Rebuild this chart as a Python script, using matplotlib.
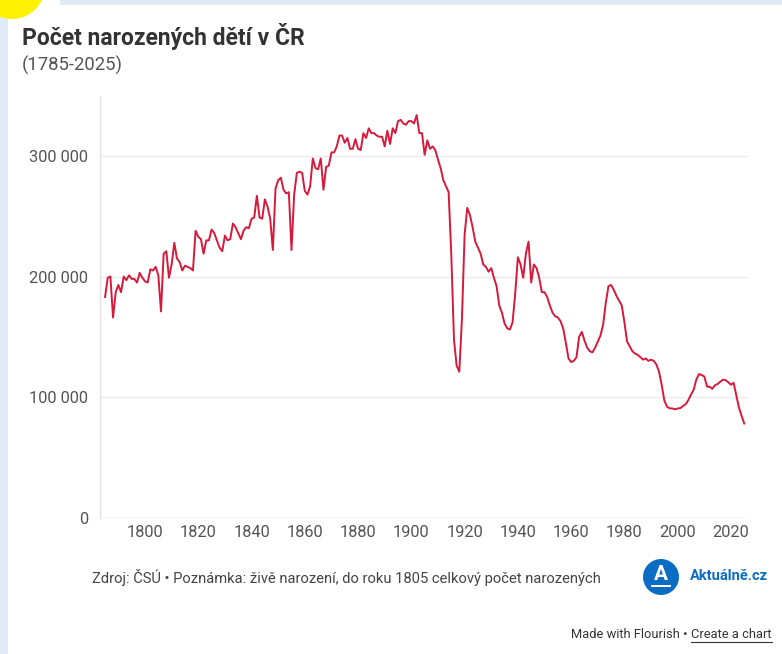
import numpy as np
import matplotlib
matplotlib.use("Agg")
import matplotlib.pyplot as plt
from matplotlib.patches import Ellipse, Rectangle

plt.rcParams['font.family'] = ['Roboto', 'DejaVu Sans']

years = np.arange(1785, 2026)
births_k = [
    183, 199, 200, 166, 187, 193, 187, 200, 197, 201,
    198, 198, 195, 203, 199, 196, 195, 206, 205, 208,
    201, 171, 219, 221, 199, 210, 228, 215, 212, 205,
    209, 208, 207, 205, 238, 233, 231, 219, 230, 230,
    239, 236, 230, 224, 221, 234, 230, 231, 244, 241,
    236, 231, 238, 241, 240, 248, 249, 267, 249, 248,
    264, 258, 248, 222, 273, 280, 282, 272, 269, 270,
    222, 268, 286, 287, 286, 271, 268, 275, 298, 290,
    289, 298, 272, 291, 292, 303, 303, 308, 317, 317,
    311, 315, 306, 306, 314, 306, 305, 319, 315, 323,
    319, 319, 317, 316, 316, 308, 321, 310, 323, 319,
    329, 330, 327, 326, 329, 329, 327, 334, 319, 319,
    301, 313, 306, 308, 305, 297, 290, 280, 275, 270,
    218, 148, 126, 121, 165, 235, 257, 251, 241, 229,
    224, 219, 210, 208, 204, 207, 199, 192, 176, 170,
    161, 157, 156, 162, 186, 216, 210, 199, 219, 229,
    195, 210, 207, 199, 187, 187, 183, 176, 170, 167,
    166, 163, 157, 145, 132, 129, 130, 133, 150, 154,
    147, 141, 138, 137, 141, 146, 151, 160, 178, 192,
    193, 189, 184, 180, 176, 162, 146, 142, 138, 136,
    135, 133, 131, 132, 130, 131, 130, 127, 121, 110,
    97, 92, 90.6, 90.5, 89.8, 90.5, 90.8, 92.5, 94, 97.5,
    102, 106, 114.5, 119, 118.3, 117, 108.7, 108.5, 106.8, 109.8,
    110.8, 112.7, 114.4, 114, 112.2, 110.2, 111.8, 101.3, 91.2, 84.3,
    78,
]
births = np.array(births_k) * 1000

x_ticks = [1800, 1820, 1840, 1860, 1880, 1900, 1920, 1940, 1960, 1980, 2000, 2020]
y_ticks = [0, 100000, 200000, 300000]
y_tick_labels = ["0", "100 000", "200 000", "300 000"]

title = "Počet narozených dětí v ČR"
subtitle = "(1785-2025)"
footer = "Zdroj: ČSÚ • Poznámka: živě narození, do roku 1805 celkový počet narozených"

W, H = 782, 654
fig = plt.figure(figsize=(W / 100, H / 100), dpi=100)
fig.patch.set_facecolor("white")

def fx(px):
    return px / W

def fy(py):
    return 1 - py / H

# screenshot frame decorations
fig.patches.append(Rectangle((0, 0), fx(8), 1, transform=fig.transFigure,
                             facecolor="#dfebf7", edgecolor="none", zorder=0))
fig.patches.append(Rectangle((fx(60), fy(5)), 1, fy(0) - fy(5), transform=fig.transFigure,
                             facecolor="#dfebf7", edgecolor="none", zorder=0))
fig.patches.append(Ellipse((fx(12), fy(-14)), 66 / W, 66 / H, transform=fig.transFigure,
                           facecolor="#fff200", edgecolor="none", zorder=1))

ax = fig.add_axes([fx(100), fy(517.5), fx(748) - fx(100), fy(97) - fy(517.5)])
ax.plot(years, births, color="#d7193c", lw=1.4, solid_joinstyle="round", zorder=3)

ax.set_xlim(1783.1, 2026.4)
ax.set_ylim(0, 349000)
ax.set_xticks(x_ticks)
ax.set_xticklabels([str(t) for t in x_ticks])
ax.set_yticks(y_ticks)
ax.set_yticklabels(y_tick_labels)
ax.tick_params(axis="both", length=0, labelsize=11.8, labelcolor="#555555")
ax.tick_params(axis="x", pad=5.5)
ax.tick_params(axis="y", pad=8.6)
ax.grid(axis="y", color="#ebebeb", lw=1)
for s in ["top", "right", "bottom"]:
    ax.spines[s].set_visible(False)
ax.spines["left"].set_color("#e3e3e3")
ax.spines["left"].set_linewidth(1)
ax.axhline(0, color="#e3e3e3", lw=1, zorder=1)

fig.text(fx(22), fy(37), title, fontsize=16.5, fontweight="bold", color="#333333", va="center", ha="left")
fig.text(fx(22), fy(65), subtitle, fontsize=13.3, color="#555555", va="center", ha="left")
fig.text(fx(92), fy(578), footer, fontsize=10.6, color="#444444", va="center", ha="left")

# logo
fig.patches.append(Ellipse((fx(661), fy(577)), 36 / W, 36 / H, transform=fig.transFigure,
                           facecolor="#0b6cc4", edgecolor="none", zorder=2))
fig.text(fx(661), fy(575), "A", fontsize=15, fontweight="bold", color="white",
         ha="center", va="center", zorder=3)
fig.patches.append(Rectangle((fx(651), fy(587)), 20 / W, 2 / H, transform=fig.transFigure,
                             facecolor="white", edgecolor="none", zorder=3))
fig.text(fx(690), fy(576), "Aktuálně.cz", fontsize=10.5, fontweight="bold", color="#0b6cc4",
         ha="left", va="center")

t1 = fig.text(fx(690), fy(634), "Create a chart", fontsize=9.3, color="#333333",
              ha="left", va="center")
fig.canvas.draw()
r = fig.canvas.get_renderer()
bb = t1.get_window_extent(renderer=r)
shift = (772 - bb.x1) / W
t1.set_position((fx(690) + shift, fy(634)))
fig.text(fx(690) + shift - 1 / W, fy(634), "Made with Flourish • ", fontsize=9.3, color="#333333",
         ha="right", va="center")
fig.canvas.draw()
bb = t1.get_window_extent(renderer=r)
fig.lines.append(plt.Line2D([bb.x0 / W, bb.x1 / W], [fy(641.5), fy(641.5)], transform=fig.transFigure,
                            color="#333333", lw=0.8))

fig.savefig("out.png", dpi=100, facecolor="white")
